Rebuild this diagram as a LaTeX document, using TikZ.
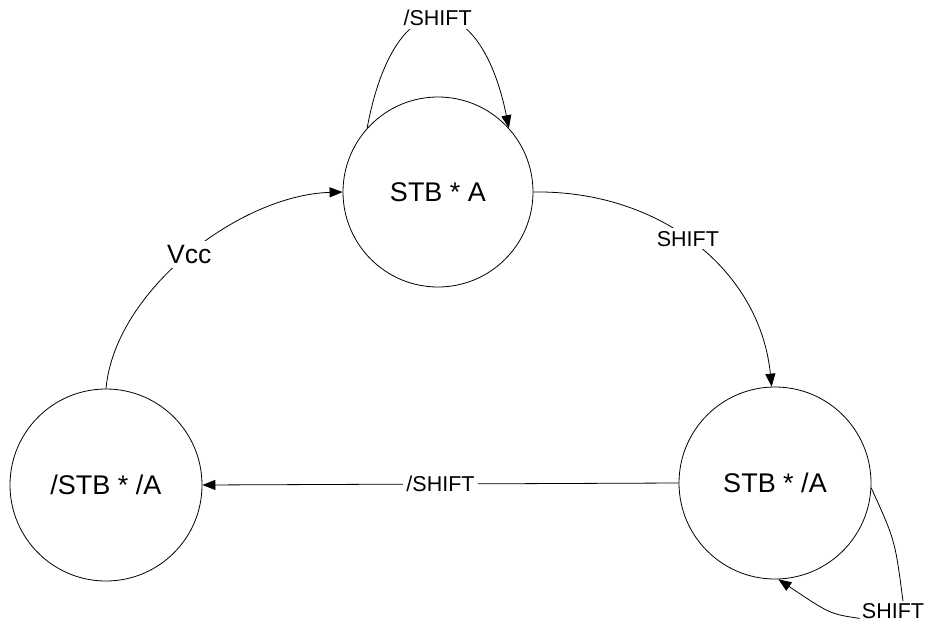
\documentclass[tikz,border=0pt]{standalone}
\usepackage{fontspec}
\setmainfont{Liberation Sans}
\usetikzlibrary{arrows.meta}
\begin{document}
\begin{tikzpicture}[x=1pt,y=-1pt,
  state/.style={draw,circle,line width=0.8pt,minimum size=192pt,inner sep=0pt,
                font=\fontsize{27}{30}\selectfont},
  edge/.style={line width=0.8pt},
  arr/.style={edge,-{Triangle[length=13pt,width=10pt]}},
  elabel/.style={fill=white,inner sep=3pt,font=\fontsize{21.5}{24}\selectfont},
  vlabel/.style={fill=white,inner sep=4pt,font=\fontsize{26.5}{29}\selectfont}]
\useasboundingbox[fill=white] (0,0) rectangle (928,626);

% states
\node[state,minimum size=190pt] (T) at (438,192) {STB * A};
\node[state] (L) at (106,485) {/STB * /A};
\node[state] (R) at (775,483) {STB * /A};

% self loop on the top state
\draw[arr] (T.138) .. controls (395,-22) and (480,-15) .. (T.42)
  node[elabel,pos=0.5] {/SHIFT};

% top state to right state
\draw[arr] (T.0) .. controls (660,190) and (760,270) .. (R.92)
  node[elabel,pos=0.47] {SHIFT};

% right state to left state
\draw[arr] (R.west) -- (L.east) node[elabel,pos=0.5] {/SHIFT};

% left state to top state
\draw[arr] (L.north) .. controls (115,290) and (240,195) .. (T.west)
  node[vlabel,pos=0.5] {Vcc};

% self loop on the right state, broken by its label
\node[font=\fontsize{21.5}{24}\selectfont,inner sep=2pt] (RS) at (893,611) {SHIFT};
\draw[edge] (R.-3) .. controls (895,540) .. ([xshift=10pt]RS.north);
\draw[arr] (RS.base west) .. controls (830,614) .. (R.-88);
\end{tikzpicture}
\end{document}
